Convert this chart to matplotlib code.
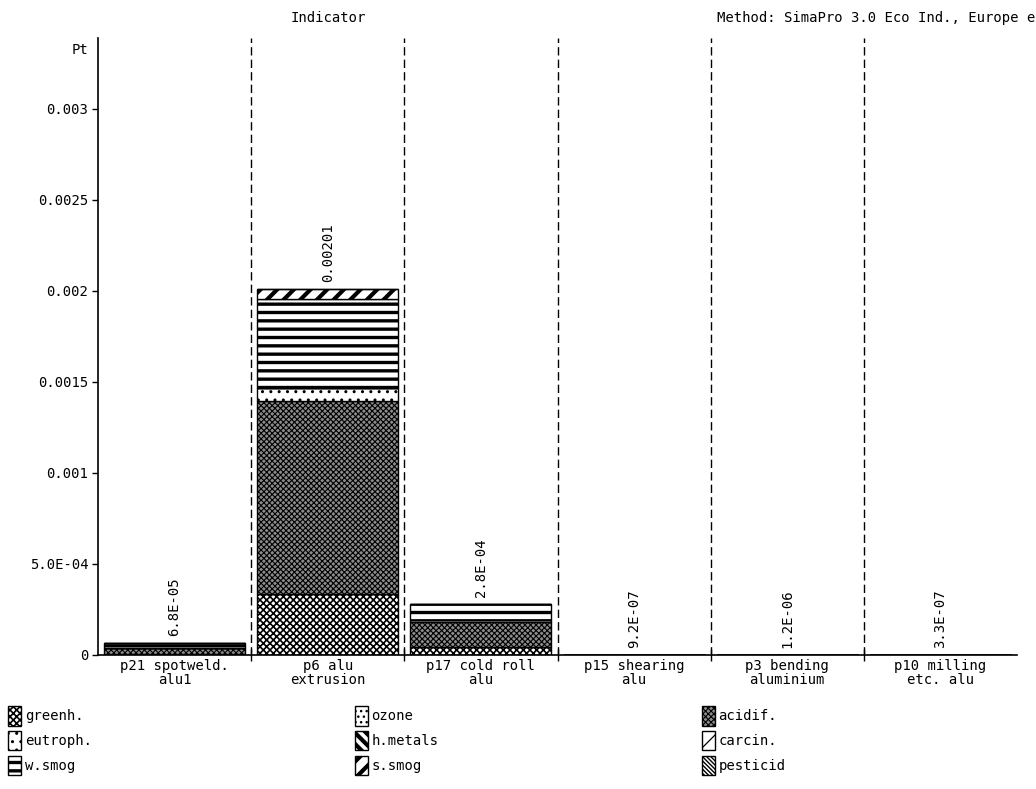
import numpy as np
import matplotlib
matplotlib.use('Agg')
import matplotlib.pyplot as plt
from matplotlib.patches import Patch

# ---------------------------------------------------------------------------
# Data
# ---------------------------------------------------------------------------
processes = ['p21 spotweld.\nalu1', 'p6 alu\nextrusion', 'p17 cold roll\nalu',
             'p15 shearing\nalu', 'p3 bending\naluminium', 'p10 milling\netc. alu']
total_labels = ['6.8E-05', '0.00201', '2.8E-04', '9.2E-07', '1.2E-06', '3.3E-07']

impacts = ['greenh.', 'ozone', 'acidif.', 'eutroph.', 'h.metals',
           'carcin.', 'w.smog', 's.smog', 'pesticid']

greenh   = [8.0e-06, 3.35e-04, 4.4e-05, 2.0e-07, 3.0e-07, 1.0e-07]
ozone    = [0.0, 0.0, 0.0, 0.0, 0.0, 0.0]
acidif   = [3.0e-05, 1.06e-03, 1.37e-04, 3.0e-07, 4.0e-07, 1.0e-07]
eutroph  = [2.0e-06, 7.1e-05, 1.1e-05, 0.0, 0.0, 0.0]
hmetals  = [0.0, 0.0, 0.0, 0.0, 0.0, 0.0]
carcin   = [0.0, 0.0, 0.0, 0.0, 0.0, 0.0]
wsmog    = [2.8e-05, 4.89e-04, 8.8e-05, 4.0e-07, 5.0e-07, 1.0e-07]
ssmog    = [0.0, 5.5e-05, 0.0, 0.0, 0.0, 0.0]
pesticid = [0.0, 0.0, 0.0, 0.0, 0.0, 0.0]

series = [greenh, ozone, acidif, eutroph, hmetals, carcin, wsmog, ssmog, pesticid]

yticks = [0, 0.0005, 0.001, 0.0015, 0.002, 0.0025, 0.003]
ytick_labels = ['0', '5.0E-04', '0.001', '0.0015', '0.002', '0.0025', '0.003']

# face colour, hatch pattern, hatch line width per impact category
styles = {
    'greenh.':  ('white', 'xxxxx', 1.2),
    'ozone':    ('white', '...', 1.0),
    'acidif.':  ('#8c8c8c', 'xxxxxx', 0.8),
    'eutroph.': ('white', '..', 1.0),
    'h.metals': ('white', '\\\\\\', 3.0),
    'carcin.':  ('white', '//', 0.9),
    'w.smog':   ('white', '--', 2.4),
    's.smog':   ('white', '//', 3.0),
    'pesticid': ('white', '\\' * 8, 1.0),
}

FONT = 'DejaVu Sans Mono'
FS = 10
plt.rcParams['font.family'] = FONT
plt.rcParams['font.size'] = FS


def apply_style(patch, name):
    fc, h, lw = styles[name]
    patch.set_facecolor(fc)
    patch.set_hatch(h)
    if hasattr(patch, 'set_hatch_linewidth'):
        patch.set_hatch_linewidth(lw)


# ---------------------------------------------------------------------------
# Plot
# ---------------------------------------------------------------------------
fig = plt.figure(figsize=(10.36, 7.89), dpi=100)
ax = fig.add_axes([98 / 1036, 134 / 789, (1017 - 98) / 1036, (655 - 38) / 789])

x = np.arange(len(processes))
bottom = np.zeros(len(processes))
for name, vals in zip(impacts, series):
    vals = np.array(vals)
    bars = ax.bar(x, vals, bottom=bottom, width=0.92, edgecolor='black', linewidth=1.0)
    for b in bars:
        apply_style(b, name)
    bottom += vals

for xi, tot, lab in zip(x, bottom, total_labels):
    ax.annotate(lab, (xi, tot), xytext=(0, 5), textcoords='offset points',
                rotation=90, ha='center', va='bottom', fontsize=FS)

# dashed separators between processes
for b in np.arange(0.5, len(processes) - 1, 1.0):
    ax.axvline(b, color='black', lw=1.0, ls=(0, (6, 3)))

ax.set_xlim(-0.5, len(processes) - 0.5)
ax.set_ylim(0, 0.00339)
ax.set_yticks(yticks)
ax.set_yticklabels(ytick_labels)
ax.set_xticks(x)
ax.set_xticklabels(processes, linespacing=0.95)
ax.set_xticks(np.arange(0.5, len(processes) - 0.5, 1.0), minor=True)
ax.tick_params(axis='x', which='major', length=0, pad=3)
ax.tick_params(axis='x', which='minor', length=8, direction='inout', width=1)
ax.tick_params(axis='y', length=4, width=1, pad=3)
for s in ['top', 'right']:
    ax.spines[s].set_visible(False)
for s in ['left', 'bottom']:
    ax.spines[s].set_linewidth(1.2)

fig.text(88 / 1036, 1 - 50 / 789, 'Pt', ha='right', va='center', fontsize=FS)
fig.text(328 / 1036, 1 - 18 / 789, 'Indicator', ha='center', va='center', fontsize=FS)
fig.text(717 / 1036, 1 - 18 / 789, 'Method: SimaPro 3.0 Eco Ind., Europe e',
         ha='left', va='center', fontsize=FS)

# legend, filled column by column so it reads row by row
order = [0, 3, 6, 1, 4, 7, 2, 5, 8]
handles = [Patch(facecolor=styles[impacts[i]][0], edgecolor='black', linewidth=1.0,
                 hatch=styles[impacts[i]][1]) for i in order]
leg = fig.legend(handles, [impacts[i] for i in order],
                 ncol=3, loc='upper left', bbox_to_anchor=(8 / 1036, 1 - 706 / 789),
                 frameon=False, borderaxespad=0, borderpad=0,
                 handlelength=0.95, handleheight=1.8, handletextpad=0.25,
                 columnspacing=18.95, labelspacing=0.37, fontsize=FS)
for h, i in zip(leg.legend_handles, order):
    apply_style(h, impacts[i])

fig.savefig('out.png', dpi=100)
